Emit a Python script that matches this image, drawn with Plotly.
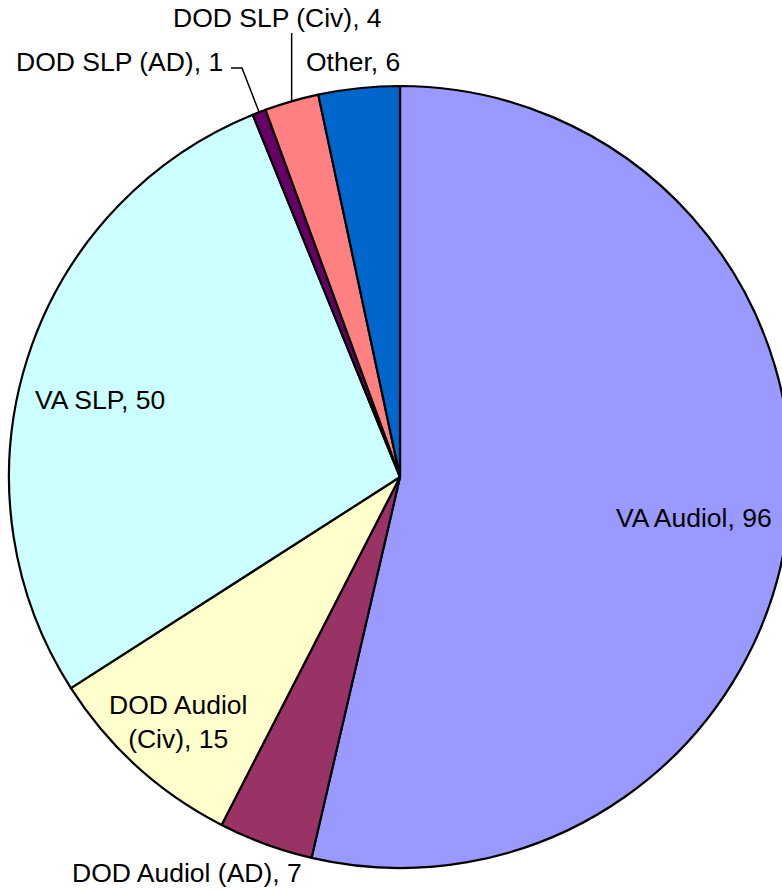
import math
import plotly.graph_objects as go

categories = ["VA Audiol", "DOD Audiol (AD)", "DOD Audiol (Civ)", "VA SLP",
              "DOD SLP (AD)", "DOD SLP (Civ)", "Other"]
values = [96, 7, 15, 50, 1, 4, 6]
colors = ["#9999FF", "#993366", "#FFFFCC", "#CCFFFF", "#660066", "#FF8080", "#0066CC"]

W, H = 800, 893
CX, CY, R = 400, 477, 391


def px(x):
    return x / W


def py(y):
    return 1 - y / H


fig = go.Figure(go.Pie(
    labels=categories, values=values, sort=False, direction="clockwise",
    rotation=0, textinfo="none", hoverinfo="label+value",
    marker=dict(colors=colors, line=dict(color="black", width=2.2)),
    domain=dict(x=[px(CX - R), px(CX + R)], y=[py(CY + R), py(CY - R)]),
    showlegend=False,
))

font = dict(family="Liberation Sans, Arial, sans-serif", size=26.5, color="black")

# label positions (pixel centres)
label_pos = {
    "VA Audiol": (694, 518, None),
    "DOD Audiol (AD)": (187, 873, None),
    "DOD Audiol (Civ)": (178, 722, "DOD Audiol<br>(Civ)"),
    "VA SLP": (100, 400, None),
    "DOD SLP (AD)": (119, 62, None),
    "DOD SLP (Civ)": (277, 18, None),
    "Other": (353, 62, None),
}
for cat, v in zip(categories, values):
    x, y, name = label_pos[cat]
    name = name or cat
    fig.add_annotation(x=px(x), y=py(y), xref="paper", yref="paper",
                       text=f"{name}, {v}", showarrow=False, font=font,
                       xanchor="center", yanchor="middle")

# leader lines computed from slice mid angles
total = sum(values)
cum = 0
mids = {}
for cat, v in zip(categories, values):
    mids[cat] = (cum + v / 2) / total * 2 * math.pi
    cum += v


def edge(cat):
    a = mids[cat]
    return CX + R * math.sin(a), CY - R * math.cos(a)


ex, ey = edge("DOD SLP (AD)")
fig.add_shape(type="path", xref="paper", yref="paper",
              path=f"M {px(231)},{py(68)} L {px(242)},{py(68)} L {px(ex)},{py(ey)}",
              line=dict(color="black", width=1.5))
ex, ey = edge("DOD SLP (Civ)")
fig.add_shape(type="line", xref="paper", yref="paper",
              x0=px(ex), y0=py(33), x1=px(ex), y1=py(ey),
              line=dict(color="black", width=1.5))

fig.update_layout(width=W, height=H, margin=dict(l=0, r=0, t=0, b=0),
                  paper_bgcolor="white", plot_bgcolor="white")

fig.write_html("out.html", config={"displayModeBar": False},
               post_script="document.body.style.margin='0';document.body.style.overflow='hidden';document.documentElement.style.overflow='hidden';")
